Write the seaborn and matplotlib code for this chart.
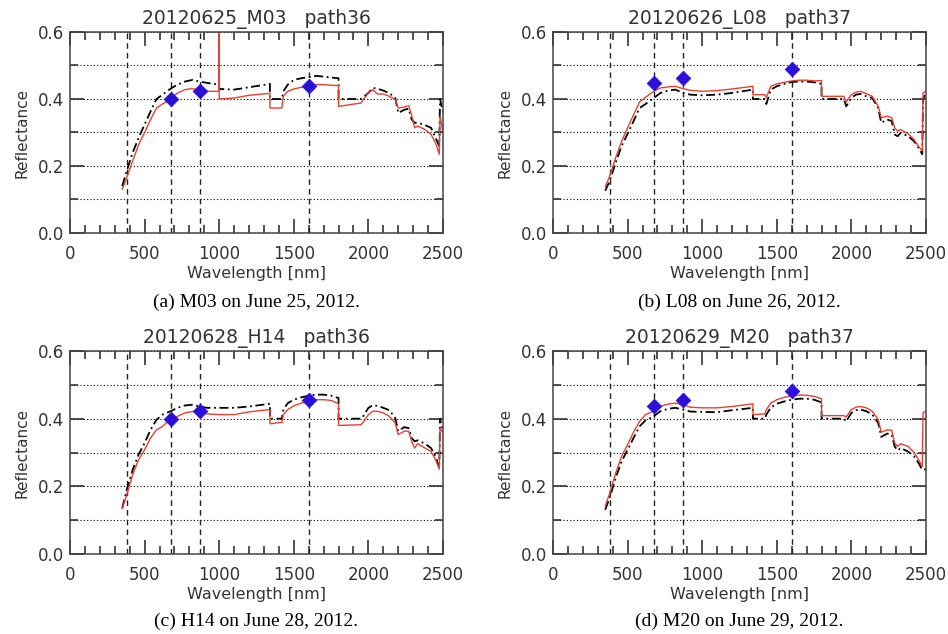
import matplotlib
matplotlib.use("Agg")
import matplotlib.pyplot as plt
import seaborn as sns
import pandas as pd
from matplotlib.ticker import MultipleLocator, FormatStrFormatter

# common wavelength grid (repeated values = steps in the spectra)
wl = [350, 380, 420, 460, 500, 540, 580, 620, 675, 720, 770, 820, 870, 920,
      1000, 1000, 1000, 1100, 1200, 1340, 1340, 1420, 1430, 1460, 1500, 1550,
      1600, 1650, 1700, 1750, 1800, 1800, 1950, 1965, 2000, 2030, 2060, 2100,
      2140, 2180, 2200, 2240, 2270, 2290, 2310, 2330, 2380, 2420, 2450, 2475,
      2480, 2500]

a_red = [0.13, 0.165, 0.215, 0.264, 0.30, 0.339, 0.373, 0.385, 0.40, 0.418, 0.428, 0.431, 0.425, 0.423,
         0.423, 0.65, 0.40, 0.403, 0.411, 0.417, 0.373, 0.373, 0.408, 0.423, 0.43, 0.435,
         0.438, 0.443, 0.443, 0.441, 0.44, 0.378, 0.388, 0.398, 0.418, 0.428, 0.415, 0.415,
         0.408, 0.398, 0.373, 0.376, 0.38, 0.351, 0.314, 0.319, 0.309, 0.294, 0.269, 0.235,
         0.349, 0.30]
a_blk = [0.14, 0.185, 0.24, 0.284, 0.324, 0.363, 0.40, 0.413, 0.431, 0.443, 0.452, 0.457, 0.452, 0.448,
         0.443, 0.443, 0.43, 0.428, 0.435, 0.445, 0.40, 0.40, 0.423, 0.443, 0.457, 0.462,
         0.465, 0.469, 0.467, 0.464, 0.462, 0.40, 0.40, 0.405, 0.418, 0.433, 0.431, 0.425,
         0.418, 0.403, 0.358, 0.368, 0.371, 0.339, 0.329, 0.329, 0.322, 0.314, 0.284, 0.26,
         0.40, 0.36]

b_red = [0.138, 0.17, 0.225, 0.274, 0.314, 0.353, 0.391, 0.405, 0.423, 0.433, 0.436, 0.438, 0.431, 0.426,
         0.423, 0.423, 0.423, 0.425, 0.43, 0.438, 0.413, 0.413, 0.405, 0.438, 0.445, 0.45,
         0.454, 0.456, 0.456, 0.454, 0.455, 0.408, 0.408, 0.391, 0.413, 0.42, 0.423, 0.416,
         0.408, 0.378, 0.344, 0.349, 0.344, 0.314, 0.304, 0.309, 0.296, 0.279, 0.259, 0.245,
         0.418, 0.423]
b_blk = [0.126, 0.155, 0.21, 0.26, 0.296, 0.334, 0.373, 0.385, 0.403, 0.418, 0.425, 0.428, 0.418, 0.413,
         0.411, 0.411, 0.411, 0.413, 0.418, 0.428, 0.40, 0.40, 0.385, 0.428, 0.438, 0.445,
         0.451, 0.452, 0.452, 0.45, 0.445, 0.40, 0.40, 0.378, 0.403, 0.413, 0.415, 0.408,
         0.403, 0.373, 0.329, 0.339, 0.334, 0.294, 0.289, 0.299, 0.289, 0.274, 0.254, 0.235,
         0.40, 0.42]

c_red = [0.134, 0.175, 0.234, 0.279, 0.308, 0.343, 0.367, 0.377, 0.40, 0.407, 0.417, 0.421, 0.42, 0.414,
         0.412, 0.412, 0.412, 0.412, 0.42, 0.427, 0.385, 0.389, 0.412, 0.427, 0.438, 0.446,
         0.451, 0.456, 0.456, 0.454, 0.444, 0.38, 0.382, 0.389, 0.412, 0.422, 0.422, 0.417,
         0.407, 0.387, 0.353, 0.363, 0.363, 0.333, 0.313, 0.326, 0.313, 0.303, 0.279, 0.251,
         0.372, 0.358]
c_blk = [0.135, 0.19, 0.249, 0.294, 0.328, 0.367, 0.397, 0.412, 0.422, 0.432, 0.439, 0.441, 0.436, 0.432,
         0.432, 0.432, 0.432, 0.432, 0.436, 0.444, 0.40, 0.40, 0.427, 0.446, 0.456, 0.463,
         0.468, 0.471, 0.471, 0.468, 0.461, 0.40, 0.40, 0.407, 0.432, 0.44, 0.438, 0.432,
         0.425, 0.402, 0.363, 0.375, 0.372, 0.343, 0.333, 0.336, 0.326, 0.313, 0.289, 0.254,
         0.40, 0.36]

d_red = [0.141, 0.18, 0.239, 0.289, 0.323, 0.36, 0.392, 0.412, 0.422, 0.436, 0.443, 0.446, 0.441, 0.434,
         0.432, 0.432, 0.432, 0.432, 0.436, 0.444, 0.412, 0.414, 0.427, 0.446, 0.456, 0.463,
         0.468, 0.47, 0.469, 0.466, 0.459, 0.409, 0.409, 0.405, 0.427, 0.434, 0.436, 0.432,
         0.422, 0.397, 0.36, 0.367, 0.366, 0.328, 0.318, 0.326, 0.318, 0.30, 0.279, 0.259,
         0.417, 0.422]
d_blk = [0.131, 0.166, 0.225, 0.274, 0.308, 0.343, 0.377, 0.395, 0.407, 0.422, 0.429, 0.432, 0.427, 0.421,
         0.42, 0.42, 0.42, 0.419, 0.425, 0.432, 0.40, 0.40, 0.412, 0.433, 0.444, 0.451,
         0.456, 0.459, 0.459, 0.456, 0.448, 0.40, 0.40, 0.392, 0.417, 0.425, 0.427, 0.422,
         0.412, 0.387, 0.346, 0.356, 0.353, 0.318, 0.306, 0.313, 0.303, 0.289, 0.269, 0.249,
         0.25, 0.25]

# satellite band reflectances (diamonds)
sat_wl = [675, 870, 1600]
a_sat = [0.40, 0.425, 0.44]
b_sat = [0.448, 0.462, 0.489]
c_sat = [0.40, 0.423, 0.455]
d_sat = [0.436, 0.456, 0.483]

band_wl = [380, 675, 870, 1600]

titles = ["20120625_M03   path36", "20120626_L08   path37",
          "20120628_H14   path36", "20120629_M20   path37"]
captions = ["(a) M03 on June 25, 2012.", "(b) L08 on June 26, 2012.",
            "(c) H14 on June 28, 2012.", "(d) M20 on June 29, 2012."]

panels = [(a_red, a_blk, a_sat), (b_red, b_blk, b_sat),
          (c_red, c_blk, c_sat), (d_red, d_blk, d_sat)]

sns.set_style("white")
plt.rcParams['font.family'] = ['DejaVu Sans']

fig = plt.figure(figsize=(9.48, 6.34), dpi=100)
W, H = 948, 634
boxes = [(70, 32, 443, 233), (553, 32, 926, 233),
         (70, 351, 443, 554), (553, 351, 926, 554)]

txt = '#333333'
for i, (red, blk, sat) in enumerate(panels):
    x0, y0, x1, y1 = boxes[i]
    ax = fig.add_axes([x0 / W, 1 - y1 / H, (x1 - x0) / W, (y1 - y0) / H])

    df = pd.DataFrame({'wl': wl, 'red': red, 'blk': blk})
    sns.lineplot(data=df, x='wl', y='blk', ax=ax, estimator=None, sort=False,
                 color='black', lw=1.3, linestyle=(0, (5, 2, 1, 2)))
    sns.lineplot(data=df, x='wl', y='red', ax=ax, estimator=None, sort=False,
                 color='#e8402f', lw=1.0)
    for b in band_wl:
        ax.axvline(b, color='#222222', lw=1.0, linestyle=(0, (4, 3)), zorder=1)
    sns.scatterplot(x=sat_wl, y=sat, ax=ax, marker='D', s=55, color='#2a10d8',
                    edgecolor='#2a10d8', zorder=5)

    ax.set_xlim(0, 2500)
    ax.set_ylim(0, 0.6)
    ax.xaxis.set_major_locator(MultipleLocator(500))
    ax.xaxis.set_minor_locator(MultipleLocator(100))
    ax.yaxis.set_major_locator(MultipleLocator(0.2))
    ax.yaxis.set_minor_locator(MultipleLocator(0.1))
    ax.yaxis.set_major_formatter(FormatStrFormatter('%.1f'))
    ax.grid(True, which='both', axis='y', color='black', lw=0.8,
            linestyle=(0, (1, 2)))
    ax.tick_params(which='both', direction='in', bottom=True, top=True,
                   left=True, right=True, color='#333333', labelcolor=txt,
                   labelsize=12, width=1.2)
    ax.tick_params(which='major', length=10)
    ax.tick_params(which='minor', length=5.5)
    ax.tick_params(axis='x', which='both', pad=9)
    ax.tick_params(axis='y', which='both', pad=4)
    for sp in ax.spines.values():
        sp.set_color('#444444')
        sp.set_linewidth(1.1)

    ax.set_xlabel('Wavelength [nm]', fontsize=11.5, color=txt, labelpad=2)
    ax.set_ylabel('Reflectance', fontsize=11, color=txt, labelpad=6)
    ax.set_title(titles[i], fontsize=13.5, color=txt, pad=6)

    cx = (x0 + x1) / 2 / W
    cy = 1 - (302 if i < 2 else 621) / H
    fig.text(cx, cy, captions[i], ha='center', va='center', fontsize=14,
             family='Liberation Serif', color='black')

fig.savefig('out.png', dpi=100)
